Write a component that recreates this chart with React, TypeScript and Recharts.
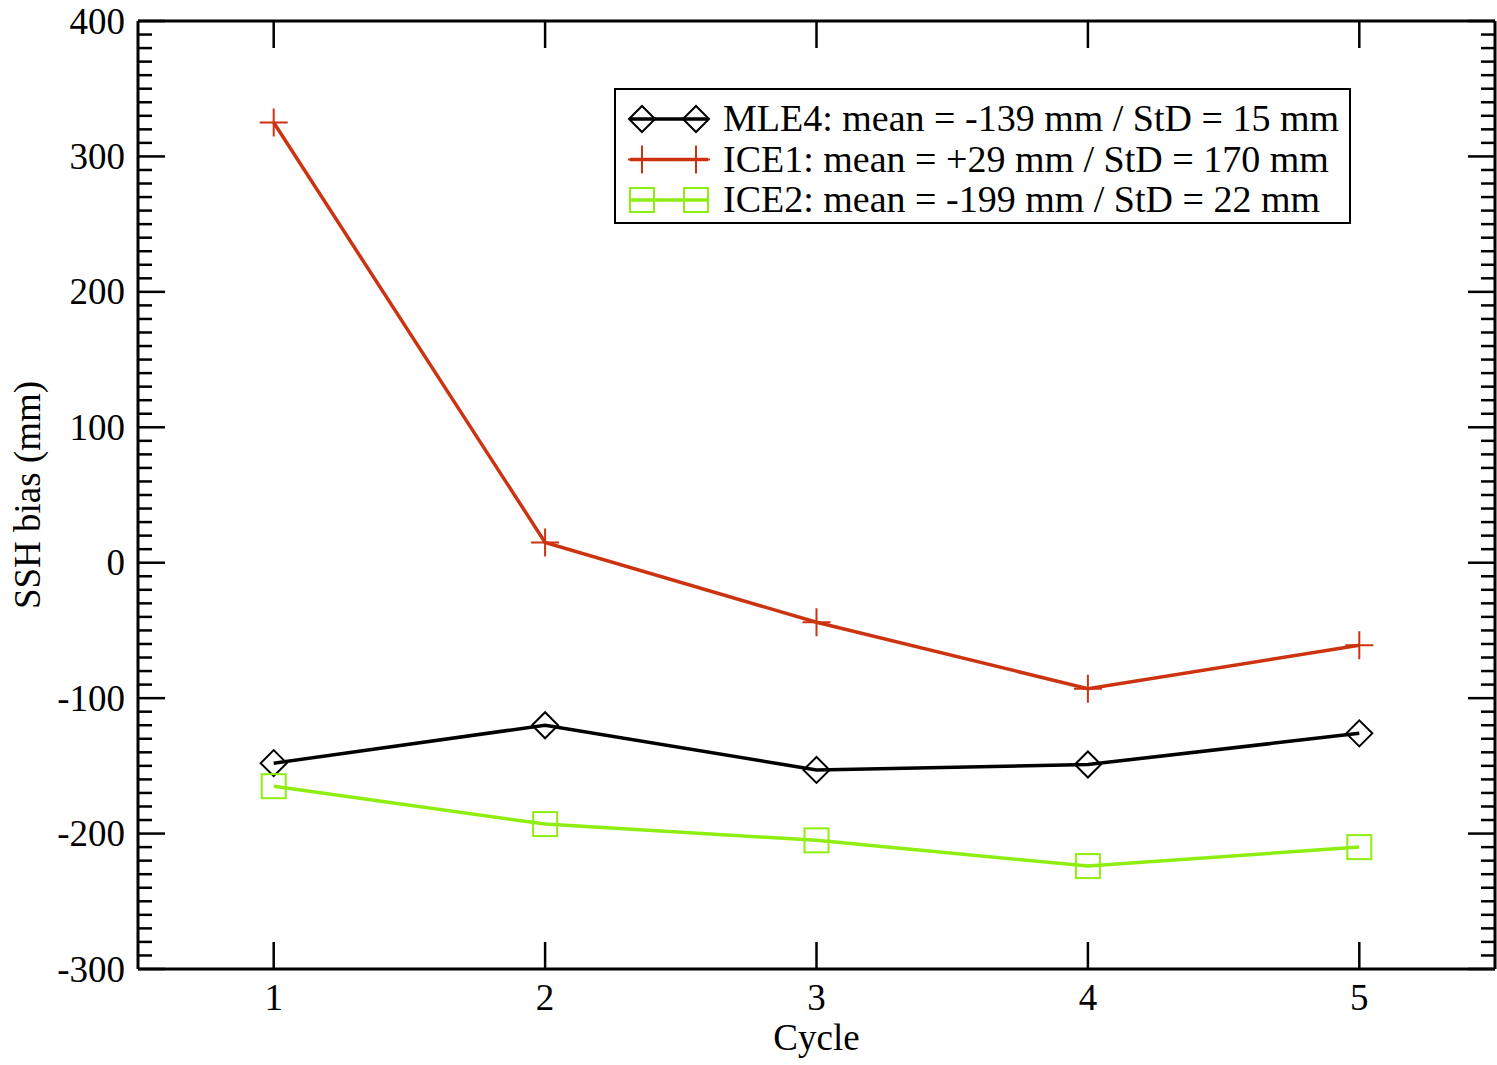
import React from 'react';
import { LineChart, Line, XAxis, YAxis, Label, Legend } from 'recharts';

const cycles = [1, 2, 3, 4, 5];
const mle4 = [-148, -120, -153, -149, -126];
const ice1 = [325, 15, -44, -93, -61];
const ice2 = [-165, -193, -205, -224, -210];

const xTicks = [1, 2, 3, 4, 5];
const yMajorTicks = [-300, -200, -100, 0, 100, 200, 300, 400];

const legendLabels = [
  'MLE4: mean = -139 mm / StD = 15 mm',
  'ICE1: mean = +29 mm / StD = 170 mm',
  'ICE2: mean = -199 mm / StD = 22 mm',
];

const BLACK = '#000000';
const RED = '#cc3311';
const GREEN = '#8fee11';
const FONT = '"Liberation Serif", "Times New Roman", serif';
const FS = 37;

// minor ticks every 10 between the majors
const yTicks: number[] = [];
for (let v = yMajorTicks[0]; v <= yMajorTicks[yMajorTicks.length - 1]; v += 10) yTicks.push(v);

const data = cycles.map((c, i) => ({ cycle: c, mle4: mle4[i], ice1: ice1[i], ice2: ice2[i] }));

const drawDiamond = (cx: number, cy: number, color: string, key?: any) => (
  <path key={key} d={`M${cx - 13},${cy} L${cx},${cy - 13} L${cx + 13},${cy} L${cx},${cy + 13} Z`} fill="none" stroke={color} strokeWidth={2} />
);
const drawPlus = (cx: number, cy: number, color: string, key?: any) => (
  <path key={key} d={`M${cx - 14},${cy} H${cx + 14} M${cx},${cy - 14} V${cy + 14}`} fill="none" stroke={color} strokeWidth={2} />
);
const drawSquare = (cx: number, cy: number, color: string, key?: any) => (
  <rect key={key} x={cx - 12} y={cy - 12} width={24} height={24} fill="none" stroke={color} strokeWidth={2} />
);

const DiamondDot = (p: any) => drawDiamond(p.cx, p.cy, BLACK, p.index);
const PlusDot = (p: any) => drawPlus(p.cx, p.cy, RED, p.index);
const SquareDot = (p: any) => drawSquare(p.cx, p.cy, GREEN, p.index);

const LeftTick = (props: any) => {
  const { x, y, payload } = props;
  const major = payload.value % 100 === 0;
  return (
    <g>
      <line x1={x} x2={x + (major ? 27 : 14)} y1={y} y2={y} stroke={BLACK} strokeWidth={2.5} />
      {major && (
        <text x={x - 13} y={y} textAnchor="end" dominantBaseline="central" fontFamily={FONT} fontSize={FS} fill={BLACK}>
          {payload.value}
        </text>
      )}
    </g>
  );
};

const RightTick = (props: any) => {
  const { x, y, payload } = props;
  const major = payload.value % 100 === 0;
  return <line x1={x} x2={x - (major ? 27 : 14)} y1={y} y2={y} stroke={BLACK} strokeWidth={2.5} />;
};

const BottomTick = (props: any) => {
  const { x, y, payload } = props;
  return (
    <g>
      <line x1={x} x2={x} y1={y} y2={y - 27} stroke={BLACK} strokeWidth={2.5} />
      <text x={x} y={y + 41} textAnchor="middle" fontFamily={FONT} fontSize={FS} fill={BLACK}>
        {payload.value}
      </text>
    </g>
  );
};

const TopTick = (props: any) => {
  const { x, y } = props;
  return <line x1={x} x2={x} y1={y} y2={y + 27} stroke={BLACK} strokeWidth={2.5} />;
};

const renderLegend = () => {
  const markers = [drawDiamond, drawPlus, drawSquare];
  const colors = [BLACK, RED, GREEN];
  return (
    <svg width={737} height={136} style={{ display: 'block' }}>
      <rect x={1} y={1} width={735} height={134} fill="#fff" stroke={BLACK} strokeWidth={2} />
      {legendLabels.map((lab, i) => {
        const cy = 31 + i * 40.5;
        return (
          <g key={lab}>
            <line x1={16} x2={94} y1={cy} y2={cy} stroke={colors[i]} strokeWidth={3.5} />
            {markers[i](28, cy, colors[i], 'a')}
            {markers[i](82, cy, colors[i], 'b')}
            <text x={109} y={cy + 12} fontFamily={FONT} fontSize={38} fill={BLACK}>
              {lab}
            </text>
          </g>
        );
      })}
    </svg>
  );
};

export default function App() {
  return (
    <div style={{ position: 'absolute', left: 0, top: 0, width: 1497, height: 1065, background: '#fff' }}>
      <LineChart width={1497} height={1065} data={data} margin={{ top: 0, right: 0, bottom: 0, left: 0 }}>
        <XAxis
          dataKey="cycle"
          type="number"
          domain={[0.5, 5.5]}
          ticks={xTicks}
          interval={0}
          height={96}
          tickSize={0}
          tickMargin={0}
          tickLine={false}
          tick={<BottomTick />}
          axisLine={{ stroke: BLACK, strokeWidth: 3 }}
          allowDataOverflow
        >
          <Label
            content={(p: any) => (
              <text x={p.viewBox.x + p.viewBox.width / 2} y={p.viewBox.y + 81} textAnchor="middle" fontFamily={FONT} fontSize={FS} fill={BLACK}>
                Cycle
              </text>
            )}
          />
        </XAxis>
        <XAxis
          xAxisId="top"
          orientation="top"
          dataKey="cycle"
          type="number"
          domain={[0.5, 5.5]}
          ticks={xTicks}
          interval={0}
          height={21}
          tickSize={0}
          tickMargin={0}
          tickLine={false}
          tick={<TopTick />}
          axisLine={{ stroke: BLACK, strokeWidth: 3 }}
          allowDataOverflow
        />
        <YAxis
          type="number"
          domain={[-300, 400]}
          ticks={yTicks}
          interval={0}
          width={138}
          tickSize={0}
          tickMargin={0}
          tickLine={false}
          tick={<LeftTick />}
          axisLine={{ stroke: BLACK, strokeWidth: 3 }}
          allowDataOverflow
        >
          <Label
            content={(p: any) => {
              const cy = p.viewBox.y + p.viewBox.height / 2;
              return (
                <text x={40} y={cy} transform={`rotate(-90, 40, ${cy})`} textAnchor="middle" fontFamily={FONT} fontSize={FS} fill={BLACK}>
                  SSH bias (mm)
                </text>
              );
            }}
          />
        </YAxis>
        <YAxis
          yAxisId="right"
          orientation="right"
          type="number"
          domain={[-300, 400]}
          ticks={yTicks}
          interval={0}
          width={2}
          tickSize={0}
          tickMargin={0}
          tickLine={false}
          tick={<RightTick />}
          axisLine={{ stroke: BLACK, strokeWidth: 3 }}
          allowDataOverflow
        />
        <Legend
          verticalAlign="middle"
          align="center"
          content={renderLegend}
          wrapperStyle={{ left: 614, top: 88, width: 737, height: 136 }}
        />
        <Line dataKey="mle4" stroke={BLACK} strokeWidth={3.5} dot={<DiamondDot />} isAnimationActive={false} />
        <Line dataKey="ice1" stroke={RED} strokeWidth={3.5} dot={<PlusDot />} isAnimationActive={false} />
        <Line dataKey="ice2" stroke={GREEN} strokeWidth={3.5} dot={<SquareDot />} isAnimationActive={false} />
      </LineChart>
    </div>
  );
}
